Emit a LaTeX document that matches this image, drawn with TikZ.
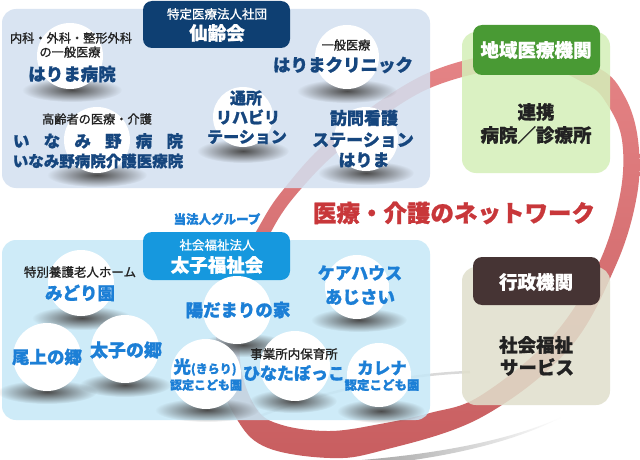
\documentclass[tikz,border=0pt]{standalone}
\usepackage{fontspec}
\setmainfont{Noto Sans CJK JP}[BoldFeatures={FakeBold=1.0}]
\newfontfamily\jpmid{Noto Sans CJK JP}[FakeBold=1.1]
\usetikzlibrary{fadings}
\definecolor{topbox}{RGB}{211,224,240}
\definecolor{botbox}{RGB}{198,232,247}
\definecolor{navyhead}{RGB}{14,63,114}
\definecolor{skyhead}{RGB}{22,152,222}
\definecolor{greenbox}{RGB}{213,239,185}
\definecolor{greenhead}{RGB}{73,154,52}
\definecolor{beigebox}{RGB}{224,223,204}
\definecolor{brownhead}{RGB}{70,52,52}
\definecolor{navytext}{RGB}{22,70,126}
\definecolor{bluetext}{RGB}{28,127,214}
\definecolor{darktext}{RGB}{34,34,34}
\definecolor{titlered}{RGB}{200,55,58}
\definecolor{ringtop}{RGB}{229,132,134}
\definecolor{ringbot}{RGB}{200,94,96}
\newcommand{\jfs}[1]{\fontsize{#1}{#1}\selectfont}
\tikzfading[name=softell, inner color=transparent!0, outer color=transparent!100]
\begin{document}
\begin{tikzpicture}[x=1pt,y=-1pt,
  every node/.style={inner sep=0pt, align=center},
  sublabel/.style={text=darktext, font=\jpmid\jfs{12.2}},
  topname/.style={text=navytext, font=\jfs{17.5}\bfseries},
  botname/.style={text=bluetext, font=\jfs{17.5}\bfseries},
  headtext/.style={text=white, font=\jfs{18.5}\bfseries},
  headsmall/.style={text=white, font=\jpmid\jfs{12.5}},
  sidetext/.style={text=darktext, font=\jfs{18.5}\bfseries},
  disc/.style={fill=white},
  shadowblob/.style={fill=black!70, path fading=softell},
  boxfill/.style={fill opacity=0.86, rounded corners=14pt},
  headfill/.style={rounded corners=9pt}]
\useasboundingbox (0,0) rectangle (640,460);
\fill[white] (0,0) rectangle (640,460);

% grey rings
\shade[left color=gray!75, right color=white]
  (350,461) .. controls (440,454) and (510,440) .. (562,417)
  .. controls (512,443) and (440,460) .. (350,467) -- cycle;
\draw[gray!30, line width=2.5pt] (255,418) .. controls (330,388) and (410,374) .. (470,372);

% red ring
\shade[top color=ringtop, bottom color=ringbot, even odd rule]
  plot[smooth cycle, tension=0.6] coordinates {(257,230) (283,190) (335,135) (430,72) (530,51) (598,68) (625,97) (638,140) (637,195) (616,265) (568,350) (480,418) (380,451) (330,458) (268,448) (238,421) (216,365) (225,290)}
  plot[smooth cycle, tension=0.6] coordinates {(272,230) (300,190) (346,145) (430,88) (530,66) (586,84) (607,104) (622,140) (620,195) (598,265) (552,337) (480,396) (430,413) (380,424) (330,431) (282,425) (256,408) (240,360) (246,290)};

% boxes
\fill[topbox, boxfill] (2,9) rectangle (430,188);
\fill[botbox, boxfill] (2,240) rectangle (430,420);
\fill[greenbox, boxfill] (462,32) rectangle (610,173);
\fill[beigebox, boxfill] (462,267) rectangle (610,405);
\fill[navyhead, headfill] (143,1) rectangle (290,48);
\fill[skyhead, headfill] (143,232) rectangle (290,280);
\fill[greenhead, headfill] (473,25) rectangle (600,75);
\fill[brownhead, headfill] (473,257) rectangle (600,305);

% shadows
\foreach \sx/\sy/\sr in {72/90/25, 97/175/25, 347/91/25, 243/151/23, 366/173/24,
  82/318/25, 47/392/25, 125/385/23, 207/410/26, 243/345/22, 293/401/22, 359/320/24, 381/411/22}
  \fill[shadowblob] (\sx,\sy) ellipse [x radius=2*\sr, y radius=12];

% discs
\foreach \cx/\cy/\cr in {70/56/33, 97/140/33, 347/57/32, 243/117/30, 366/139/32,
  81/283/33, 47/357/34, 125/349/34, 206/374/35, 237/310/34, 295/366/35, 357/287/32, 379/375/32}
  \fill[disc] (\cx,\cy) circle [radius=\cr];

% headers text
\node[headsmall] (senreihead) at (217,14) {特定医療法人社団};
\node[headtext] (senrei) at (217,33) {仙齢会};
\node[text=bluetext, font=\jfs{12.5}\bfseries] (group) at (217,219) {当法人グループ};
\node[headsmall] (taishihead) at (217,245) {社会福祉法人};
\node[headtext] (taishi) at (217,265) {太子福祉会};

% top box items
\node[sublabel] (h1a) at (71,38) {内科・外科・整形外科};
\node[sublabel] (h1b) at (70,52) {の一般医療};
\node[topname] (h1) at (72,74) {はりま病院};
\node[sublabel] (h2a) at (97,119) {高齢者の医療・介護};
\node[topname, font=\jfs{16.5}\bfseries] (h2) at (98,141) {\makebox[170pt][s]{い\hfill な\hfill み\hfill 野\hfill 病\hfill 院}};
\node[topname, font=\jfs{15.5}\bfseries] (h2b) at (98,161) {いなみ野病院介護医療院};
\node[sublabel] (h3a) at (346,45) {一般医療};
\node[topname] (h3) at (343,65) {はりまクリニック};
\node[topname, font=\jfs{16}\bfseries] (h4a) at (246,98) {通所};
\node[topname, font=\jfs{16}\bfseries] (h4b) at (248,117) {リハビリ};
\node[topname, font=\jfs{16}\bfseries] (h4c) at (247,137) {テーション};
\node[topname, font=\jfs{17}\bfseries] (h5a) at (364,118) {訪問看護};
\node[topname, font=\jfs{17}\bfseries] (h5b) at (363,140) {ステーション};
\node[topname, font=\jfs{17}\bfseries] (h5c) at (364,160) {はりま};

% bottom box items
\node[sublabel, font=\jpmid\jfs{12.5}] (b1a) at (80,272) {特別養護老人ホーム};
\node[botname] (b1) at (80,293) {みどり園};
\node[botname] (b2) at (47,357) {尾上の郷};
\node[botname, font=\jfs{18}\bfseries] (b3) at (126,350) {太子の郷};
\node[botname] (b4) at (205,367) {光{\jfs{12}(きらり)}};
\node[botname, font=\jfs{12}\bfseries] (b4b) at (206,385) {認定こども園};
\node[botname] (b5) at (238,310) {陽だまりの家};
\node[sublabel, font=\jpmid\jfs{12.5}] (b6a) at (294,354) {事業所内保育所};
\node[botname, font=\jfs{17}\bfseries] (b6) at (294,373) {ひなたぼっこ};
\node[botname, font=\jfs{17}\bfseries] (b7a) at (360,273) {ケアハウス};
\node[botname] (b7b) at (360,297) {あじさい};
\node[botname, font=\jfs{16.5}\bfseries] (b8) at (382,368) {カレナ};
\node[botname, font=\jfs{12.5}\bfseries] (b8b) at (382,385) {認定こども園};

% right boxes
\node[headtext] (chiiki) at (536,50) {地域医療機関};
\node[sidetext] (renkei) at (536,112) {連携};
\node[sidetext] (byoin) at (536,135) {病院／診療所};
\node[headtext] (gyosei) at (536,282) {行政機関};
\node[sidetext] (fukushi) at (536,345) {社会福祉};
\node[sidetext] (service) at (537,367) {サービス};

% title
\node[text=titlered, font=\jfs{23.5}\bfseries] (title) at (454,213) {医療・介護のネットワーク};
\end{tikzpicture}
\end{document}
